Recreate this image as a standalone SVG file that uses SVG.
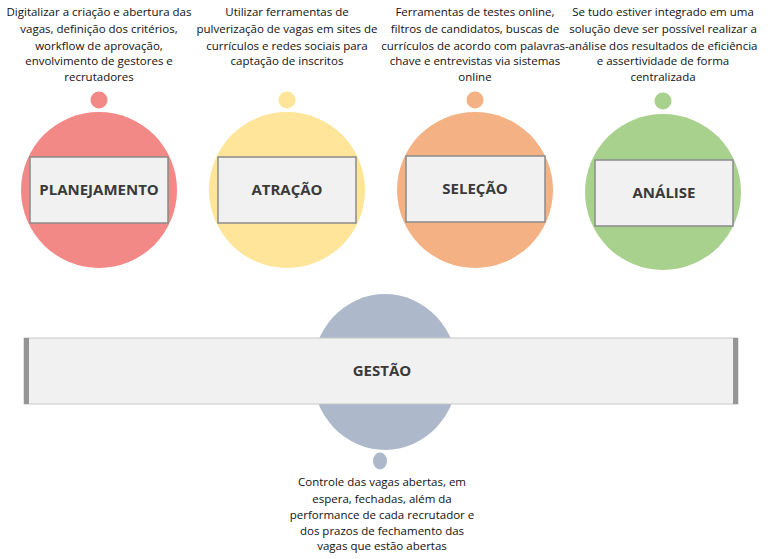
<svg xmlns="http://www.w3.org/2000/svg" width="768" height="559" viewBox="0 0 768 559">
<style>
.d{font-family:"Open Sans","Noto Sans",sans-serif;font-size:11.5px;fill:#111;text-anchor:middle}
.l{font-family:"Open Sans","Noto Sans",sans-serif;font-size:15px;font-weight:bold;fill:#3a3a3a;text-anchor:middle}
.b{fill:#f1f1f1;stroke:#8a8a8a;stroke-width:1.5}
</style>
<rect width="768" height="559" fill="#fff"/>
<g id="planejamento">
<circle cx="99" cy="190" r="78" fill="#f28987"/><circle cx="99" cy="100" r="8.5" fill="#f28987"/>
<rect class="b" x="30" y="157" width="138" height="66"/>
<text class="l" x="99" y="195">PLANEJAMENTO</text>
<text class="d" x="99" y="16">Digitalizar a criação e abertura das</text>
<text class="d" x="99" y="33">vagas, definição dos critérios,</text>
<text class="d" x="99" y="50">workflow de aprovação,</text>
<text class="d" x="99" y="65">envolvimento de gestores e</text>
<text class="d" x="99" y="81">recrutadores</text>
</g>
<g id="atracao">
<circle cx="287" cy="190" r="78" fill="#ffe599"/><circle cx="287" cy="100" r="8.5" fill="#ffe599"/>
<rect class="b" x="218" y="157" width="138" height="66"/>
<text class="l" x="287" y="195">ATRAÇÃO</text>
<text class="d" x="287" y="16">Utilizar ferramentas de</text>
<text class="d" x="287" y="33">pulverização de vagas em sites de</text>
<text class="d" x="287" y="50">currículos e redes sociais para</text>
<text class="d" x="287" y="65">captação de inscritos</text>
</g>
<g id="selecao">
<circle cx="475" cy="190" r="78" fill="#f4b183"/><circle cx="475" cy="100" r="8.5" fill="#f4b183"/>
<rect class="b" x="406" y="156" width="139" height="66"/>
<text class="l" x="475" y="194">SELEÇÃO</text>
<text class="d" x="475" y="16">Ferramentas de testes online,</text>
<text class="d" x="475" y="33">filtros de candidatos, buscas de</text>
<text class="d" x="475" y="50">currículos de acordo com palavras-</text>
<text class="d" x="475" y="65">chave e entrevistas via sistemas</text>
<text class="d" x="475" y="81">online</text>
</g>
<g id="analise">
<circle cx="663" cy="192" r="78" fill="#a9d18e"/><circle cx="663" cy="101" r="8.5" fill="#a9d18e"/>
<rect class="b" x="595" y="160" width="138" height="66"/>
<text class="l" x="664" y="198">ANÁLISE</text>
<text class="d" x="663" y="16">Se tudo estiver integrado em uma</text>
<text class="d" x="663" y="33">solução deve ser possível realizar a</text>
<text class="d" x="663" y="50">análise dos resultados de eficiência</text>
<text class="d" x="663" y="65">e assertividade de forma</text>
<text class="d" x="663" y="81">centralizada</text>
</g>
<g id="gestao">
<ellipse cx="385" cy="372" rx="73" ry="78" fill="#adb9ca"/>
<ellipse cx="380" cy="461" rx="7" ry="8.5" fill="#adb9ca"/>
<rect x="24" y="338" width="714" height="66" fill="#f1f1f1" stroke="#c8c8c8" stroke-width="1"/>
<rect x="24" y="338" width="5" height="66" fill="#959595"/>
<rect x="733" y="338" width="5" height="66" fill="#959595"/>
<text class="l" x="382" y="376">GESTÃO</text>
<text class="d" x="382" y="486">Controle das vagas abertas, em</text>
<text class="d" x="382" y="503">espera, fechadas, além da</text>
<text class="d" x="382" y="519">performance de cada recrutador e</text>
<text class="d" x="382" y="535">dos prazos de fechamento das</text>
<text class="d" x="382" y="550">vagas que estão abertas</text>
</g>
<g id="connectors"/>
</svg>
